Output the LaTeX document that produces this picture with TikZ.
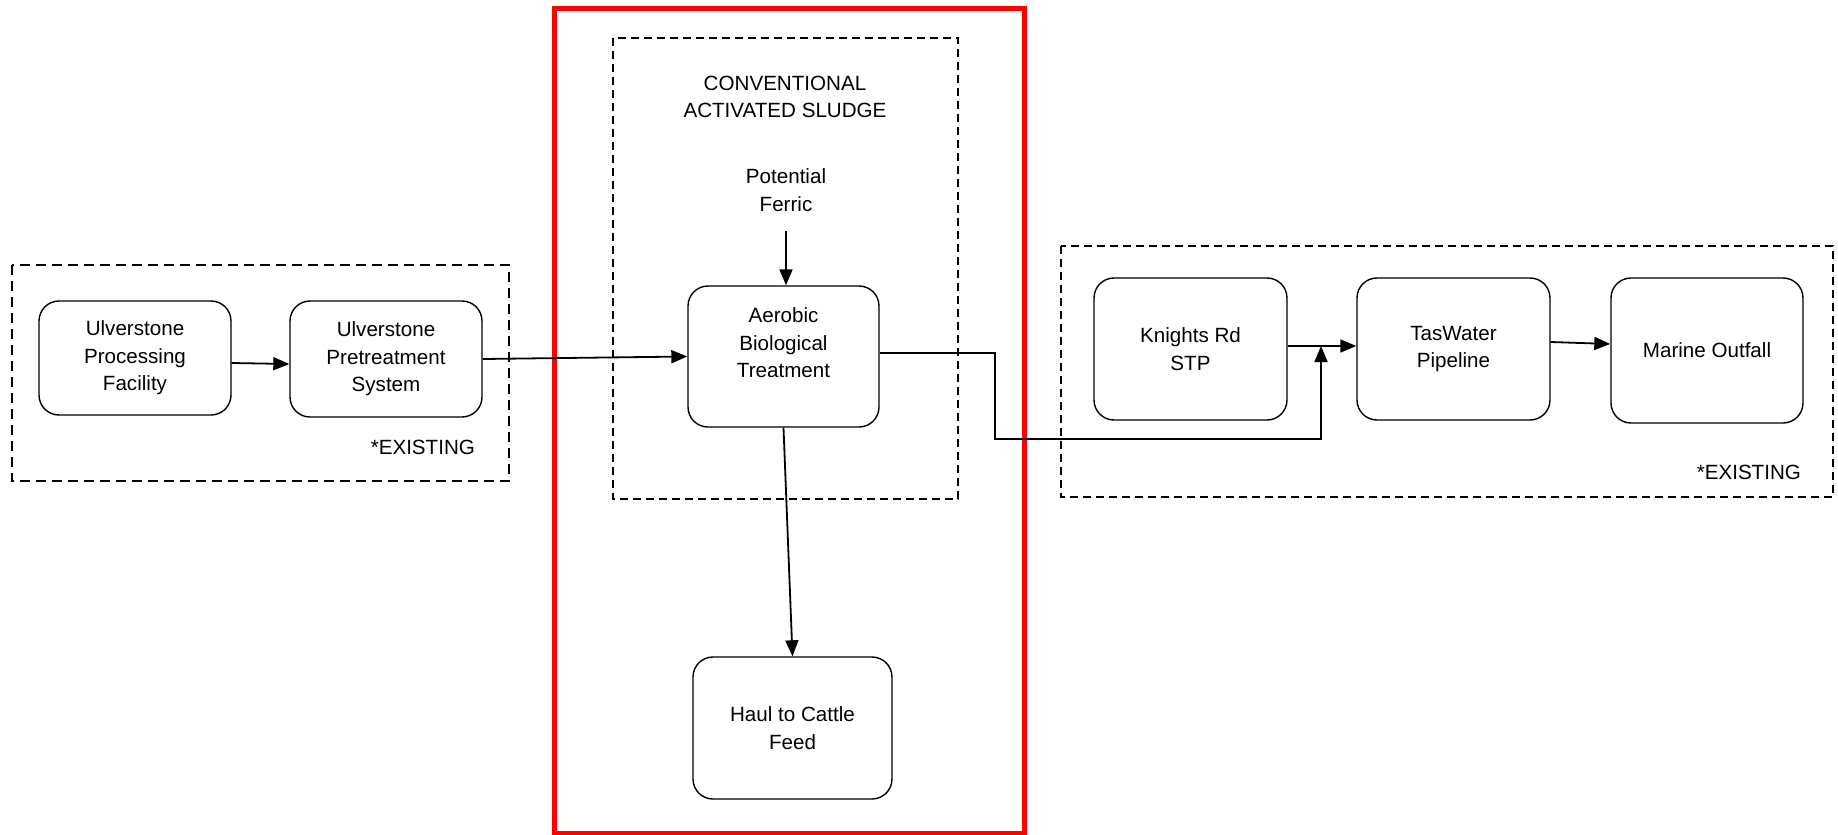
\documentclass[tikz,border=0pt]{standalone}
\usepackage{fontspec}
\setmainfont{Liberation Sans}
\usetikzlibrary{arrows.meta}

\begin{document}
\begin{tikzpicture}[x=0.5pt,y=-0.5pt,
	every node/.style={font=\fontsize{10.3}{13.8}\selectfont, align=center},
	proc/.style={draw, rounded corners=10pt, line width=0.7pt, inner sep=0pt,
		minimum width=96pt, minimum height=71pt},
	flow/.style={line width=0.9pt, -{Triangle[length=8pt,width=6.5pt]}},
	grp/.style={line width=0.7pt, dash pattern=on 4pt off 2.5pt},
	existgrp/.style={line width=1pt, dash pattern=on 5pt off 3pt}]

\useasboundingbox (0,0) rectangle (1838,835);

% option boundary
\draw[red, line width=2.5pt] (554,8) rectangle (1024,833);

% groups
\draw[existgrp] (12,265) rectangle (509,481);
\draw[grp] (613,38) rectangle (958,499);
\draw[grp] (1061,246) rectangle (1833,497);

\node[anchor=east] (exleft) at (482,447) {*EXISTING};
\node[anchor=east] (exright) at (1808,472) {*EXISTING};
\node (cas) at (785,97) {CONVENTIONAL\\ACTIVATED SLUDGE};

% process units
\node[proc, minimum height=57pt] (upf) at (135,358) {Ulverstone\\Processing\\Facility};
\node[proc, minimum height=58pt] (ups) at (386,359) {Ulverstone\\Pretreatment\\System};
\node (ferric) at (786,190) {Potential\\Ferric};
\node[proc, minimum width=95.5pt, minimum height=70.5pt] (abt) at (783.5,356.5) {};
\node (abttext) at (783.5,343) {Aerobic\\Biological\\Treatment};
\node[proc, minimum width=99.5pt] (haul) at (792.5,728) {Haul to Cattle\\Feed};
\node[proc, minimum width=96.5pt] (krd) at (1190.5,349) {Knights Rd\\STP};
\node[proc, minimum width=96.5pt] (tas) at (1453.5,349) {TasWater\\Pipeline};
\node[proc, minimum height=72.5pt] (outfall) at (1707,350.5) {Marine Outfall};

\coordinate (jn) at (1321,346);

% flows
\draw[flow] ([yshift=-2.5pt]upf.east) -- ([yshift=-2.5pt]ups.east -| ups.west);
\draw[flow] (ups.east) -- (abt.west);
\draw[flow] (ferric.south |- 0,231) -- (ferric.south |- abt.north);
\draw[flow] (abt.south) -- (haul.north);
\draw[flow] ([yshift=1.75pt]abt.east) -| (995,439) -| (jn);
\draw[flow] ([yshift=1.5pt]krd.east) -- ([yshift=1.5pt]tas.west);
\draw[flow] ([yshift=3.5pt]tas.east) -- ([yshift=3.25pt]outfall.west);

\end{tikzpicture}
\end{document}
